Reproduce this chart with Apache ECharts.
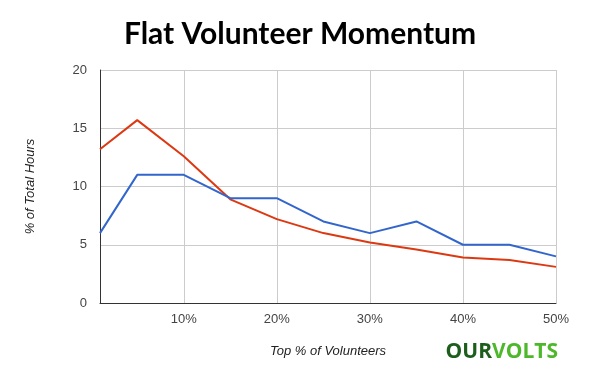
<!DOCTYPE html>
<html>
<head>
<meta charset="utf-8">
<script src="https://cdn.jsdelivr.net/npm/echarts@6/dist/echarts.min.js"></script>
<style>html,body{margin:0;padding:0;background:#fff}#chart{width:600px;height:375px}</style>
</head>
<body>
<div id="chart"></div>
<script>
const titleText = 'Flat Volunteer Momentum';
const xValues = [1, 5, 10, 15, 20, 25, 30, 35, 40, 45, 50];
const blueValues = [6, 11, 11, 9, 9, 7, 6, 7, 5, 5, 4];
const redValues = [13.2, 15.7, 12.6, 8.9, 7.2, 6.0, 5.2, 4.6, 3.9, 3.7, 3.1];
const xTickValues = [10, 20, 30, 40, 50];
const xAxisName = 'Top % of Volunteers';
const yAxisName = '% of Total Hours';

const zip = (xs, ys) => xs.map((x, i) => [x, ys[i]]);

const chart = echarts.init(document.getElementById('chart'), null, {renderer: 'canvas'});
chart.setOption({
  animation: false,
  backgroundColor: '#fff',
  title: {
    text: titleText,
    left: 'center',
    top: 14,
    textStyle: {fontFamily: 'Lato', fontWeight: 'bold', fontSize: 30, color: '#000'}
  },
  grid: {left: 100, right: 44, top: 70, bottom: 72},
  xAxis: {
    type: 'value',
    min: 1,
    max: 50,
    name: xAxisName,
    nameLocation: 'middle',
    nameGap: 42,
    nameTextStyle: {fontFamily: 'Liberation Sans', fontStyle: 'italic', fontSize: 13, color: '#222'},
    axisLine: {show: true, lineStyle: {color: '#333', width: 1}},
    axisTick: {show: false, customValues: xTickValues},
    axisLabel: {customValues: xTickValues, formatter: v => v + '%', color: '#444', fontFamily: 'Liberation Sans', fontSize: 13, margin: 10},
    splitLine: {show: true, lineStyle: {color: '#ccc', width: 1}}
  },
  yAxis: {
    type: 'value',
    min: 0,
    max: 20,
    interval: 5,
    name: yAxisName,
    nameLocation: 'middle',
    nameGap: 63,
    nameRotate: 90,
    nameTextStyle: {fontFamily: 'Liberation Sans', fontStyle: 'italic', fontSize: 13, color: '#222'},
    axisLine: {show: true, lineStyle: {color: '#333', width: 1}},
    axisTick: {show: false},
    axisLabel: {color: '#444', fontFamily: 'Liberation Sans', fontSize: 13, margin: 13},
    splitLine: {show: true, lineStyle: {color: '#ccc', width: 1}}
  },
  series: [
    {type: 'line', data: zip(xValues, redValues), symbol: 'none', lineStyle: {color: '#dc3912', width: 2}, itemStyle: {color: '#dc3912'}},
    {type: 'line', data: zip(xValues, blueValues), symbol: 'none', lineStyle: {color: '#3366cc', width: 2}, itemStyle: {color: '#3366cc'}}
  ],
  graphic: [{
    type: 'text',
    right: 42,
    top: 342,
    style: {
      text: '{a|OUR}{b|VOLTS}',
      rich: {
        a: {fontFamily: 'Open Sans', fontWeight: 'bold', fontSize: 21, fill: '#1d5e1d', color: '#1d5e1d'},
        b: {fontFamily: 'Open Sans', fontWeight: 'bold', fontSize: 21, fill: '#4cb82a', color: '#4cb82a'}
      }
    }
  }]
});
</script>
</body>
</html>
